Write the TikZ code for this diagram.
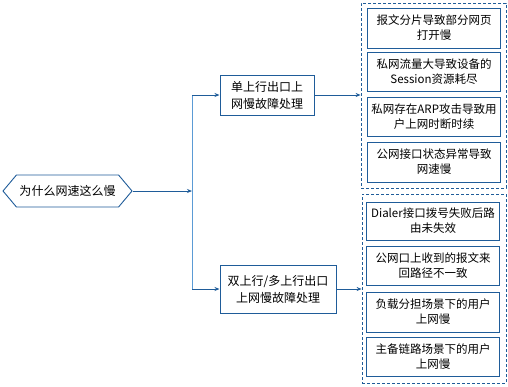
\documentclass[tikz,border=0pt]{standalone}
\usepackage{fontspec}
\setmainfont{Noto Sans CJK SC}
\usetikzlibrary{shapes.symbols,arrows.meta}
\definecolor{boxblue}{HTML}{1F5C99}
\definecolor{trunkblue}{HTML}{5B9BD5}
\tikzset{
  topic/.style={signal, signal to=west and east, signal pointer angle=100, draw=boxblue, line width=0.9pt,
    minimum width=129pt, minimum height=32pt, inner sep=0pt, font=\fontsize{12}{16}\selectfont},
  branch/.style={draw=boxblue, line width=1pt, align=center, inner sep=0pt, font=\fontsize{12}{17}\selectfont},
  group/.style={draw=boxblue, line width=0.8pt, dash pattern=on 3pt off 2pt, inner sep=0pt},
  cause/.style={draw=boxblue, line width=1pt, align=center, inner sep=0pt, minimum width=133pt,
    font=\fontsize{11.5}{15}\selectfont},
  link/.style={draw=boxblue, line width=0.9pt, -{Stealth[length=5pt,width=4pt]}}
}
\begin{document}
\begin{tikzpicture}[x=1pt,y=-1pt]
  \useasboundingbox (0,0) rectangle (508,386);
  % root
  \node[topic] (root) at (67.5,191) {为什么网速这么慢};
  \coordinate (trunk) at (192,191);
  \coordinate (trunktop) at (192,95);
  \coordinate (trunkbot) at (192,289);
  % branches
  \node[branch, minimum width=94pt, minimum height=40pt] (single) at (267,95) {单上行出口上\\网慢故障处理};
  \node[branch, minimum width=116pt, minimum height=48pt] (multi) at (278,289) {双上行/多上行出口\\上网慢故障处理};
  % groups
  \node[group, minimum width=145pt, minimum height=185pt] (grpa) at (433.5,95.5) {};
  \node[group, minimum width=144pt, minimum height=189pt] (grpb) at (434,288.5) {};
  \foreach \y/\h/\nm/\txt in {28/40/ca/{报文分片导致部分网页\\打开慢},
      71.5/39/cb/{私网流量大导致设备的\\Session资源耗尽},
      116.5/39/cc/{私网存在ARP攻击导致用\\户上网时断时续},
      162/40/cd/{公网接口状态异常导致\\网速慢}}
    \node[cause, minimum height=\h pt] (\nm) at (434,\y) {\txt};
  \foreach \y/\h/\nm/\txt in {221/38/ce/{Dialer接口拨号失败后路\\由未失效},
      265.5/39/cf/{公网口上收到的报文来\\回路径不一致},
      312/40/cg/{负载分担场景下的用户\\上网慢},
      356.5/39/ch/{主备链路场景下的用户\\上网慢}}
    \node[cause, minimum height=\h pt] (\nm) at (433,\y) {\txt};
  % connectors
  \draw[link] (root.east) -- (trunk);
  \draw[trunkblue, line width=1pt] (trunktop) -- (trunkbot);
  \draw[link] (trunktop) -- (single.west);
  \draw[link] (trunkbot) -- (multi.west);
  \draw[link] (single.east) -- (single.east -| grpa.west);
  \draw[link] (multi.east) -- (multi.east -| grpb.west);
\end{tikzpicture}
\end{document}
